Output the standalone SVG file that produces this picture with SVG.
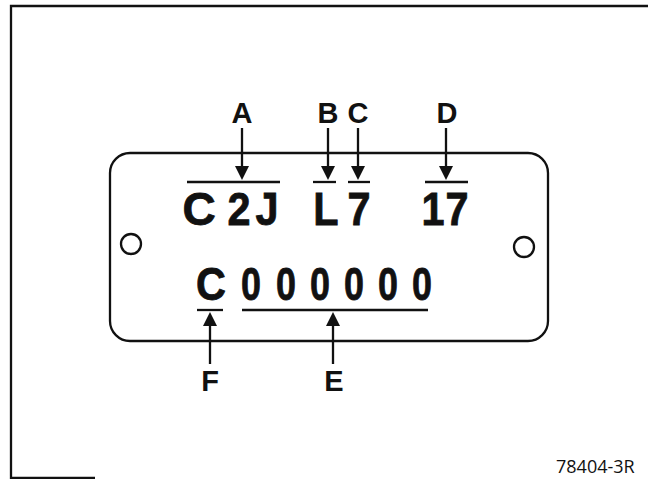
<svg xmlns="http://www.w3.org/2000/svg" width="648" height="479" viewBox="0 0 648 479">
<defs>
<style>
.ln{stroke:#111;stroke-width:2.3;fill:none}
.big{font-family:"Liberation Sans",Arial,sans-serif;font-weight:bold;font-size:46px;fill:#111;text-anchor:middle;stroke:#111;stroke-width:0.8}
.lbl{font-family:"Liberation Sans",Arial,sans-serif;font-weight:bold;font-size:29px;fill:#111;text-anchor:middle}
.hd{fill:#111}
</style>
</defs>
<rect width="648" height="479" fill="#fff"/>
<path d="M648,6 H11 V478 H95" class="ln" stroke-width="2.5"/>
<g id="plate">
<rect x="110" y="153" width="438" height="188" rx="20" ry="20" class="ln" stroke-width="2.6"/>
<circle cx="131" cy="244" r="10" class="ln"/>
<circle cx="524" cy="247" r="10" class="ln"/>
</g>
<g id="plate-text">
<text class="big" x="199" y="225">C</text>
<text class="big" x="239" y="225" transform="translate(239,0) scale(0.9,1) translate(-239,0)">2</text>
<text class="big" x="267" y="225" transform="translate(267,0) scale(0.9,1) translate(-267,0)">J</text>
<text class="big" x="326" y="225" transform="translate(326,0) scale(0.9,1) translate(-326,0)">L</text>
<text class="big" x="359" y="225" transform="translate(359,0) scale(0.9,1) translate(-359,0)">7</text>
<text class="big" x="433" y="225" transform="translate(433,0) scale(0.9,1) translate(-433,0)">1</text>
<text class="big" x="457" y="225" transform="translate(457,0) scale(0.9,1) translate(-457,0)">7</text>
<text class="big" x="211" y="300" transform="translate(211,0) scale(0.9,1) translate(-211,0)">C</text>
<text class="big" x="251" y="300" transform="translate(251,0) scale(0.78,1) translate(-251,0)">0</text>
<text class="big" x="286" y="300" transform="translate(286,0) scale(0.78,1) translate(-286,0)">0</text>
<text class="big" x="320" y="300" transform="translate(320,0) scale(0.78,1) translate(-320,0)">0</text>
<text class="big" x="354" y="300" transform="translate(354,0) scale(0.78,1) translate(-354,0)">0</text>
<text class="big" x="388" y="300" transform="translate(388,0) scale(0.78,1) translate(-388,0)">0</text>
<text class="big" x="422" y="300" transform="translate(422,0) scale(0.78,1) translate(-422,0)">0</text>
</g>
<g id="underlines">
<line x1="187" y1="182" x2="280" y2="182" class="ln"/>
<line x1="313" y1="182" x2="336" y2="182" class="ln"/>
<line x1="348" y1="182" x2="370" y2="182" class="ln"/>
<line x1="425" y1="182" x2="468" y2="182" class="ln"/>
<line x1="197" y1="310" x2="223" y2="310" class="ln"/>
<line x1="242" y1="310" x2="428" y2="310" class="ln"/>
</g>
<g id="connectors">
<line x1="242" y1="128" x2="242" y2="167" class="ln"/>
<polygon points="235,166 249,166 242,180" class="hd"/>
<line x1="328" y1="128" x2="328" y2="167" class="ln"/>
<polygon points="321,166 335,166 328,180" class="hd"/>
<line x1="358" y1="128" x2="358" y2="167" class="ln"/>
<polygon points="351,166 365,166 358,180" class="hd"/>
<line x1="446" y1="128" x2="446" y2="167" class="ln"/>
<polygon points="439,166 453,166 446,180" class="hd"/>
<line x1="210" y1="325" x2="210" y2="364" class="ln"/>
<polygon points="203,326 217,326 210,312" class="hd"/>
<line x1="333" y1="325" x2="333" y2="364" class="ln"/>
<polygon points="326,326 340,326 333,312" class="hd"/>
</g>
<g id="labels">
<text class="lbl" x="242" y="123">A</text>
<text class="lbl" x="328" y="123">B</text>
<text class="lbl" x="358" y="123">C</text>
<text class="lbl" x="447" y="123">D</text>
<text class="lbl" x="210" y="391">F</text>
<text class="lbl" x="334" y="391">E</text>
</g>
<text x="556" y="473" font-family="'Open Sans','Liberation Sans',sans-serif" font-size="18" fill="#111">78404-3R</text>
</svg>
